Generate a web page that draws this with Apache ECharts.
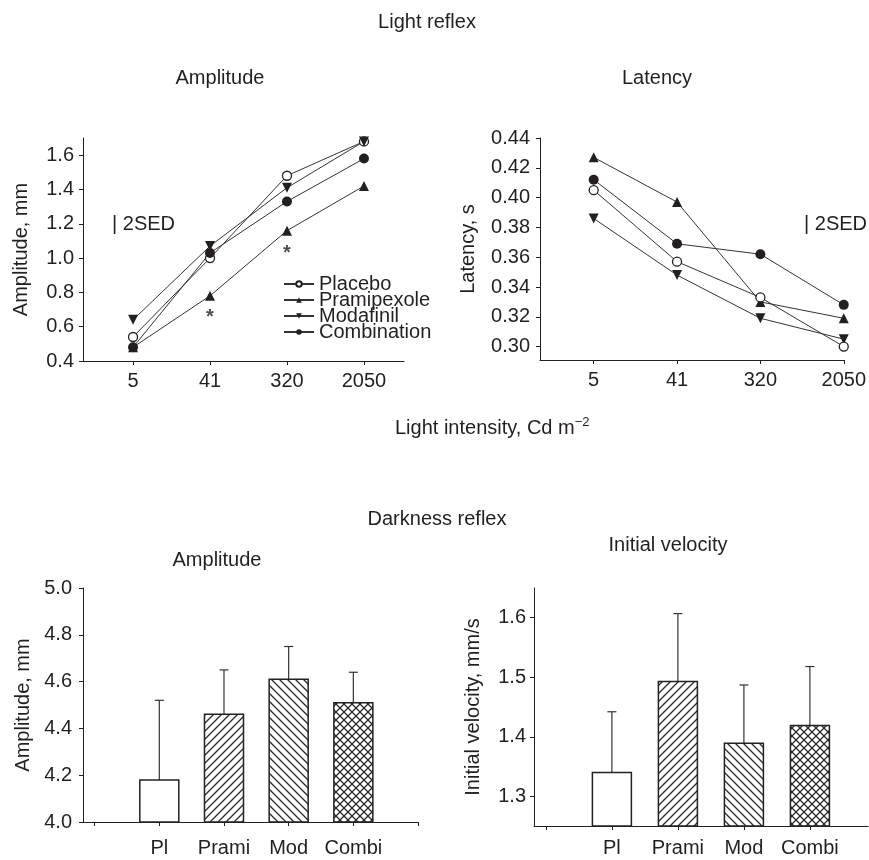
<!DOCTYPE html>
<html>
<head>
<meta charset="utf-8">
<script src="https://cdn.jsdelivr.net/npm/echarts@6/dist/echarts.min.js"></script>
<style>html,body{margin:0;padding:0;background:#fff}#c{width:869px;height:860px}</style>
</head>
<body>
<div id="c"></div>
<script>
// ---- data ----
const intensities = ['5', '41', '320', '2050'];
const groups = ['Placebo', 'Pramipexole', 'Modafinil', 'Combination'];
const ampPlacebo = [0.54, 1.00, 1.48, 1.68];
const ampPrami = [0.48, 0.78, 1.16, 1.42];
const ampModa = [0.64, 1.07, 1.41, 1.68];
const ampCombi = [0.48, 1.03, 1.33, 1.58];
const latPlacebo = [0.405, 0.357, 0.333, 0.300];
const latPrami = [0.427, 0.397, 0.330, 0.319];
const latModa = [0.386, 0.348, 0.319, 0.305];
const latCombi = [0.412, 0.369, 0.362, 0.328];
const asteriskPos = [[1, 0.655], [2, 1.024]];
const ampTicks = [0.4, 0.6, 0.8, 1.0, 1.2, 1.4, 1.6];
const latTicks = [0.30, 0.32, 0.34, 0.36, 0.38, 0.40, 0.42, 0.44];

const drugs = ['Pl', 'Prami', 'Mod', 'Combi'];
const darkAmp = [4.18, 4.46, 4.61, 4.51];
const darkAmpErrTop = [4.52, 4.65, 4.75, 4.64];
const velocity = [1.34, 1.493, 1.389, 1.419];
const velocityErrTop = [1.442, 1.607, 1.487, 1.518];
const velTicks = [1.3, 1.4, 1.5, 1.6];

// ---- styling helpers ----
const F = '"Liberation Sans", Arial, Helvetica, sans-serif';
const C = '#231f20';
const FS = 20;

function pattern(kind) {
  const s = 8;
  const cv = document.createElement('canvas');
  cv.width = s; cv.height = s;
  const g = cv.getContext('2d');
  g.fillStyle = '#fff'; g.fillRect(0, 0, s, s);
  g.strokeStyle = '#2a2a2a'; g.lineWidth = 1.3;
  function fwd() { // "/"
    g.beginPath();
    g.moveTo(-1, s + 1); g.lineTo(s + 1, -1);
    g.moveTo(-1, 1); g.lineTo(1, -1);
    g.moveTo(s - 1, s + 1); g.lineTo(s + 1, s - 1);
    g.stroke();
  }
  function back() { // "\"
    g.beginPath();
    g.moveTo(-1, -1); g.lineTo(s + 1, s + 1);
    g.moveTo(s - 1, -1); g.lineTo(s + 1, 1);
    g.moveTo(-1, s - 1); g.lineTo(1, s + 1);
    g.stroke();
  }
  if (kind === 'fwd') fwd();
  if (kind === 'back') back();
  if (kind === 'cross') { fwd(); back(); }
  return { image: cv, repeat: 'repeat' };
}
const fills = ['#ffffff', pattern('fwd'), pattern('back'), pattern('cross')];

function axisLine() { return { show: true, onZero: false, lineStyle: { color: C, width: 1 } }; }

function lineSeries(name, xi, yi, vals, symbol, rotate, fillColor, hollow) {
  return {
    type: 'line', name, xAxisIndex: xi, yAxisIndex: yi,
    data: vals.map((v, i) => [i, v]),
    symbol, symbolSize: symbol === 'triangle' ? 10 : (hollow ? 9 : 10), symbolRotate: rotate,
    showSymbol: true, clip: false, z: 3,
    lineStyle: { color: '#333', width: 1, type: 'solid' },
    itemStyle: { color: fillColor, borderColor: C, borderWidth: hollow ? 1.3 : 0 },
    emphasis: { disabled: true }
  };
}

function barSeries(xi, yi, vals, baseVal) {
  return {
    type: 'custom', xAxisIndex: xi, yAxisIndex: yi, clip: false, z: 3,
    data: vals.map((v, i) => [i + 1, v, i]),
    renderItem: function (params, api) {
      const top = api.coord([api.value(0), api.value(1)]);
      const base = api.coord([api.value(0), baseVal]);
      const w = 39;
      return {
        type: 'rect',
        shape: { x: top[0] - w / 2, y: top[1], width: w, height: base[1] - top[1] },
        style: { fill: fills[api.value(2)], stroke: '#222', lineWidth: 1.5 }
      };
    }
  };
}
function errSeries(xi, yi, vals, tops) {
  return {
    type: 'custom', xAxisIndex: xi, yAxisIndex: yi, clip: false, z: 2,
    data: vals.map((v, i) => [i + 1, v, tops[i]]),
    renderItem: function (params, api) {
      const a = api.coord([api.value(0), api.value(1)]);
      const b = api.coord([api.value(0), api.value(2)]);
      const st = { stroke: '#333', lineWidth: 1.2 };
      return {
        type: 'group', children: [
          { type: 'line', shape: { x1: a[0], y1: a[1], x2: b[0], y2: b[1] }, style: st },
          { type: 'line', shape: { x1: b[0] - 4.5, y1: b[1], x2: b[0] + 4.5, y2: b[1] }, style: st }
        ]
      };
    }
  };
}

const txt = (text, x, y, align) => ({
  type: 'text', x, y, silent: true,
  style: { text, fill: C, font: FS + 'px ' + F, align: align || 'center', verticalAlign: 'middle' }
});

const option = {
  animation: false,
  textStyle: { fontFamily: F, color: C },
  grid: [
    { left: 83, top: 138, width: 321, height: 223 },
    { left: 540, top: 138, width: 322, height: 222 },
    { left: 83, top: 588, width: 335, height: 234 },
    { left: 534, top: 588, width: 334, height: 238 }
  ],
  xAxis: [
    { gridIndex: 0, type: 'value', min: -0.65, max: 3.52, axisLine: axisLine(), splitLine: { show: false },
      axisTick: { customValues: [0, 1, 2, 3], length: 4, lineStyle: { color: C } },
      axisLabel: { customValues: [0, 1, 2, 3], formatter: v => intensities[Math.round(v)], fontSize: FS, color: C, margin: 10, fontFamily: F } },
    { gridIndex: 1, type: 'value', min: -0.644, max: 3.0, axisLine: axisLine(), splitLine: { show: false },
      axisTick: { customValues: [0, 1, 2, 3], length: 4, lineStyle: { color: C } },
      axisLabel: { customValues: [0, 1, 2, 3], formatter: v => intensities[Math.round(v)], fontSize: FS, color: C, margin: 10, fontFamily: F } },
    { gridIndex: 2, type: 'value', min: -0.18, max: 5, axisLine: axisLine(), splitLine: { show: false },
      axisTick: { customValues: [0, 1, 2, 3, 4, 5], length: 4, lineStyle: { color: C } },
      axisLabel: { customValues: [1, 2, 3, 4], formatter: v => drugs[Math.round(v) - 1], fontSize: FS, color: C, margin: 16, fontFamily: F } },
    { gridIndex: 3, type: 'value', min: -0.18, max: 4.88, axisLine: axisLine(), splitLine: { show: false },
      axisTick: { customValues: [0, 1, 2, 3, 4], length: 4, lineStyle: { color: C } },
      axisLabel: { customValues: [1, 2, 3, 4], formatter: v => drugs[Math.round(v) - 1], fontSize: FS, color: C, margin: 12, fontFamily: F } }
  ],
  yAxis: [
    { gridIndex: 0, type: 'value', min: 0.4, max: 1.7, axisLine: axisLine(), splitLine: { show: false },
      axisTick: { show: true, customValues: ampTicks, length: 4, lineStyle: { color: C } },
      axisLabel: { customValues: ampTicks, formatter: v => v.toFixed(1), fontSize: FS, color: C, margin: 9, fontFamily: F },
      name: 'Amplitude, mm', nameLocation: 'middle', nameGap: 52, nameTextStyle: { fontSize: FS, color: C, fontFamily: F } },
    { gridIndex: 1, type: 'value', min: 0.291, max: 0.44, axisLine: axisLine(), splitLine: { show: false },
      axisTick: { show: true, customValues: latTicks, length: 4, lineStyle: { color: C } },
      axisLabel: { customValues: latTicks, formatter: v => v.toFixed(2), fontSize: FS, color: C, margin: 10, fontFamily: F },
      name: 'Latency, s', nameLocation: 'middle', nameGap: 62, nameTextStyle: { fontSize: FS, color: C, fontFamily: F } },
    { gridIndex: 2, type: 'value', min: 4.0, max: 5.0, interval: 0.2, axisLine: axisLine(), splitLine: { show: false },
      axisTick: { show: true, length: 4, lineStyle: { color: C } },
      axisLabel: { formatter: v => v.toFixed(1), fontSize: FS, color: C, margin: 11, fontFamily: F },
      name: 'Amplitude, mm', nameLocation: 'middle', nameGap: 50, nameTextStyle: { fontSize: FS, color: C, fontFamily: F } },
    { gridIndex: 3, type: 'value', min: 1.25, max: 1.65, axisLine: axisLine(), splitLine: { show: false },
      axisTick: { show: true, customValues: velTicks, length: 4, lineStyle: { color: C } },
      axisLabel: { customValues: velTicks, formatter: v => v.toFixed(1), fontSize: FS, color: C, margin: 8, fontFamily: F },
      name: 'Initial velocity, mm/s', nameLocation: 'middle', nameGap: 51, nameTextStyle: { fontSize: FS, color: C, fontFamily: F } }
  ],
  legend: {
    orient: 'vertical', left: 278, top: 269, itemWidth: 30, itemHeight: 7, itemGap: -4,
    data: groups, selectedMode: false,
    textStyle: { fontSize: FS, color: C, fontFamily: F }
  },
  series: [
    lineSeries('Placebo', 0, 0, ampPlacebo, 'circle', 0, '#fff', true),
    lineSeries('Pramipexole', 0, 0, ampPrami, 'triangle', 0, C, false),
    lineSeries('Modafinil', 0, 0, ampModa, 'triangle', 180, C, false),
    lineSeries('Combination', 0, 0, ampCombi, 'circle', 0, C, false),
    lineSeries('Pramipexole', 1, 1, latPrami, 'triangle', 0, C, false),
    lineSeries('Modafinil', 1, 1, latModa, 'triangle', 180, C, false),
    lineSeries('Combination', 1, 1, latCombi, 'circle', 0, C, false),
    lineSeries('Placebo', 1, 1, latPlacebo, 'circle', 0, '#fff', true),
    {
      type: 'scatter', xAxisIndex: 0, yAxisIndex: 0, symbolSize: 1, itemStyle: { color: 'rgba(0,0,0,0)' },
      data: asteriskPos, silent: true,
      label: { show: true, position: 'inside', formatter: '*', fontSize: FS, fontWeight: 'bold', color: C, fontFamily: F }
    },
    errSeries(2, 2, darkAmp, darkAmpErrTop),
    barSeries(2, 2, darkAmp, 4.0),
    errSeries(3, 3, velocity, velocityErrTop),
    barSeries(3, 3, velocity, 1.25)
  ],
  graphic: [
    txt('Light reflex', 427, 22),
    txt('Amplitude', 220, 78),
    txt('Latency', 657, 78),
    {
      type: 'text', x: 395, y: 428, silent: true,
      style: {
        text: 'Light intensity, Cd m{sup|\u22122}', verticalAlign: 'middle', align: 'left',
        font: FS + 'px ' + F, fill: C,
        rich: { sup: { fontSize: 13, fontFamily: F, fill: C, padding: [0, 0, 12, 0] } }
      }
    },
    txt('Darkness reflex', 437, 519),
    txt('Amplitude', 217, 560),
    txt('Initial velocity', 668, 545),
    txt('| 2SED', 112, 224, 'left'),
    txt('| 2SED', 804, 224, 'left')
  ]
};

const chart = echarts.init(document.getElementById('c'), null, { renderer: 'canvas' });
chart.setOption(option);
</script>
</body>
</html>
